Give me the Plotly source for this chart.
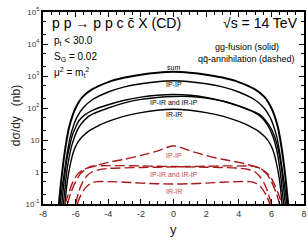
import plotly.graph_objects as go

# ---- data (dσ/dy in nb vs rapidity y) ----
# gg-fusion (solid)
y_sum = [-7.03,-6.9,-6.8,-6.7,-6.55,-6.4,-6.2,-6.0,-5.6,-5.0,-4.0,-3.0,-2.0,-1.0,0.0,1.0,2.0,3.0,4.0,5.0,5.6,6.0,6.2,6.4,6.55,6.7,6.8,6.9,7.03]
v_sum = [0.1,0.45,1.26,3.16,10,25,56,100,214,380,646,891,1096,1259,1349,1259,1096,891,646,380,214,100,56,25,10,3.16,1.26,0.45,0.1]

y_pp = [-6.95,-6.83,-6.73,-6.62,-6.48,-6.33,-6.13,-5.93,-5.55,-5.0,-4.0,-3.0,-2.0,-1.0,0.0,1.0,2.0,3.0,4.0,5.0,5.55,5.93,6.13,6.33,6.48,6.62,6.73,6.83,6.95]
v_pp = [0.1,0.32,0.71,1.78,5.0,12.6,28,50,100,178,316,457,575,661,708,661,575,457,316,178,100,50,28,12.6,5.0,1.78,0.71,0.32,0.1]

y_pr = [-6.85,-6.73,-6.62,-6.5,-6.35,-6.2,-6.0,-5.8,-5.4,-5.0,-4.0,-3.0,-2.0,-1.0,0.0,1.0,2.0,3.0,4.0,5.0,5.3,5.7,5.9,6.1,6.25,6.4,6.52,6.63,6.75]
v_pr = [0.1,0.4,1.26,3.16,7.1,14.1,25,40,63,83,126,174,219,251,263,251,214,166,115,71,56,33,22,12.6,7.1,3.16,1.26,0.4,0.1]

y_rp = [-6.75,-6.63,-6.52,-6.4,-6.25,-6.1,-5.9,-5.7,-5.3,-5.0,-4.0,-3.0,-2.0,-1.0,0.0,1.0,2.0,3.0,4.0,5.0,5.4,5.8,6.0,6.2,6.35,6.5,6.62,6.73,6.85]
v_rp = [0.1,0.4,1.26,2.8,6.3,11.2,20,30,50,63,100,145,186,214,229,229,204,166,117,74,56,32,22,12.6,7.1,3.16,1.26,0.4,0.1]

y_rr = [-6.65,-6.55,-6.45,-6.3,-6.15,-6.0,-5.8,-5.6,-5.2,-4.8,-4.0,-3.0,-2.0,-1.0,0.0,1.0,2.0,3.0,4.0,4.8,5.2,5.6,5.8,6.0,6.15,6.3,6.45,6.55,6.65]
v_rr = [0.1,0.35,0.8,2.0,4.0,6.3,9.5,12.6,19,25,38,56,72,85,91,85,72,56,38,25,19,12.6,9.5,6.3,4.0,2.0,0.8,0.35,0.1]

# qq-annihilation (dashed)
yq_pp = [-6.65,-6.45,-6.2,-5.9,-5.5,-5.0,-4.0,-3.0,-2.0,-1.0,0.0,1.0,2.0,3.0,4.0,5.0,5.5,5.9,6.2,6.45,6.65]
vq_pp = [0.1,0.2,0.45,0.83,1.2,1.45,2.0,2.5,3.3,4.5,6.6,4.6,3.3,2.5,2.0,1.48,1.12,0.76,0.4,0.19,0.1]

yq_pr = [-6.5,-6.3,-6.0,-5.7,-5.3,-5.0,-4.0,-3.0,-2.0,-1.0,0.0,1.0,2.0,3.0,4.0,4.6,5.0,5.3,5.6,5.8,6.0]
vq_pr = [0.1,0.22,0.5,0.89,1.32,1.51,1.58,1.58,1.55,1.51,1.48,1.45,1.41,1.38,1.32,1.2,1.0,0.71,0.4,0.22,0.1]

yq_rp = [-6.0,-5.8,-5.6,-5.3,-5.0,-4.6,-4.0,-3.0,-2.0,-1.0,0.0,1.0,2.0,3.0,4.0,5.0,5.3,5.7,6.0,6.3,6.5]
vq_rp = [0.1,0.25,0.45,0.76,1.0,1.17,1.29,1.35,1.38,1.41,1.45,1.48,1.51,1.55,1.55,1.48,1.29,0.89,0.5,0.22,0.1]

yq_rr = [-5.9,-5.7,-5.4,-5.1,-4.7,-4.0,-3.0,-2.0,-1.0,0.0,1.0,2.0,3.0,4.0,4.7,5.1,5.4,5.7,5.9]
vq_rr = [0.1,0.18,0.32,0.43,0.5,0.5,0.48,0.45,0.43,0.42,0.43,0.45,0.48,0.5,0.5,0.43,0.32,0.18,0.1]

x_ticks = [-8, -6, -4, -2, 0, 2, 4, 6, 8]
x_ticktext = ["-8", "-6", "-4", "-2", "0", "2", "4", "6", "8"]
y_ticks = [0.1, 1, 10, 100, 1000, 10000, 100000]
y_ticktext = ["10<sup>-1</sup>", "1", "10", "10<sup>2</sup>", "10<sup>3</sup>", "10<sup>4</sup>", "10<sup>5</sup>"]

RED = "#a81818"
LRED = "#c84848"

fig = go.Figure()
solid = [(y_sum, v_sum, 2.0), (y_pp, v_pp, 1.4), (y_pr, v_pr, 1.4), (y_rp, v_rp, 1.4), (y_rr, v_rr, 1.4)]
for xs, vs, w in solid:
    fig.add_trace(go.Scatter(x=xs, y=vs, mode="lines", hoverinfo="skip",
                             line=dict(color="black", width=w, shape="spline", smoothing=0.8)))
dashed = [(yq_pp, vq_pp), (yq_pr, vq_pr), (yq_rp, vq_rp), (yq_rr, vq_rr)]
for xs, vs in dashed:
    fig.add_trace(go.Scatter(x=xs, y=vs, mode="lines", hoverinfo="skip",
                             line=dict(color=RED, width=1.4, dash="10px,4px", shape="spline", smoothing=0.8)))

FONT = "Liberation Sans, Arial, sans-serif"
ann = []
def A(x, y, t, size, color="black", xanchor="center", textangle=0, xref="x", yref="y"):
    ann.append(dict(x=x, y=y, text=t, showarrow=False, xref=xref, yref=yref,
                    font=dict(family=FONT, size=size, color=color),
                    xanchor=xanchor, yanchor="middle", textangle=textangle))

A(-7.6, 4.66, "p p → p p c c̄ X (CD)", 14, xanchor="left")
A(7.75, 4.66, "√s = 14 TeV", 14, xanchor="right")
A(-7.45, 4.09, "p<sub>t</sub> < 30.0", 10, xanchor="left")
A(-7.45, 3.59, "S<sub>G</sub> = 0.02", 10, xanchor="left")
A(-7.45, 3.12, "μ<sup>2</sup> = m<sub>t</sub><sup>2</sup>", 10, xanchor="left")
A(4.5, 3.91, "gg-fusion (solid)", 9)
A(4.5, 3.53, "qq̄-annihilation (dashed)", 9)

A(0, 3.27, "sum", 7)
A(0, 2.72, "IP-IP", 7)
A(0, 2.17, "IP-IR and IR-IP", 7)
A(0, 1.81, "IR-IR", 7)
A(0, 0.51, "IP-IP", 7, color=LRED)
A(0, -0.07, "IP-IR and IR-IP", 7, color=LRED)
A(0, -0.61, "IR-IR", 7, color=LRED)

A(-0.105, 0.46, "dσ/dy   (nb)", 12, textangle=-90, xref="paper", yref="paper", color="#222")
A(0.5, -0.135, "y", 13, xref="paper", yref="paper", color="#222")

fig.update_layout(
    width=308, height=241,
    margin=dict(l=43, r=2, t=12, b=37),
    paper_bgcolor="white", plot_bgcolor="white",
    showlegend=False,
    font=dict(family=FONT, size=9, color="#333"),
    annotations=ann,
)
fig.update_xaxes(range=[-8, 8], tickvals=x_ticks, ticktext=x_ticktext,
                 ticks="inside", ticklen=5, tickwidth=1, tickcolor="black",
                 showline=True, linewidth=2, linecolor="black", mirror="allticks",
                 showgrid=False, zeroline=False,
                 tickfont=dict(size=9, color="#333"),
                 minor=dict(dtick=0.5, ticks="inside", ticklen=3, tickcolor="black", showgrid=False))
fig.update_yaxes(type="log", range=[-1, 5], tickvals=y_ticks, ticktext=y_ticktext,
                 ticks="inside", ticklen=5, tickwidth=1, tickcolor="black",
                 showline=True, linewidth=2, linecolor="black", mirror="allticks",
                 showgrid=False, zeroline=False,
                 tickfont=dict(size=8, color="#333"),
                 minor=dict(ticks="inside", ticklen=3, tickcolor="black", showgrid=False))

fig.write_html("out.html", config={"displayModeBar": False},
               post_script="document.body.style.margin='0';")
